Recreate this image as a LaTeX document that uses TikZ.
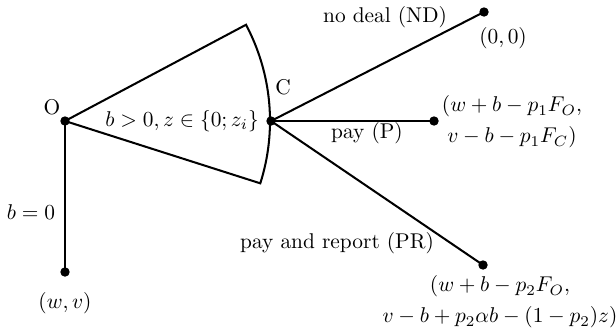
\documentclass[tikz,border=0pt]{standalone}
\usetikzlibrary{calc}
\begin{document}
\begin{tikzpicture}[x=0.468pt,y=-0.468pt,
  dot/.style={circle,fill=black,inner sep=0pt,minimum size=4.4pt},
  edge/.style={line width=0.95pt},
  txt/.style={inner sep=0pt}]
\useasboundingbox (0,0) rectangle (616,334);
\node[dot] (O) at (65,121) {};
\node[dot] (C) at (271,121) {};
\node[dot] (W) at (65,272) {};
\node[dot] (ND) at (484,12) {};
\node[dot] (P) at (434,121) {};
\node[dot] (PR) at (483,265) {};
% wedge
\draw[edge] (O.center) -- ++(-28:205) arc[start angle=-28, end angle=17.7, radius=205] -- cycle;
\draw[edge] (O.center) -- (W.center);
\draw[edge] (C.center) -- (ND.center);
\draw[edge] (C.center) -- (P.center);
\draw[edge] (C.center) -- (PR.center);
% labels
\node[txt] (lO) at (52,107) {O};
\node[txt] (lC) at (283,87) {C};
\node[txt] (lbz) at (182,121) {$b>0,z\in\{0;z_i\}$};
\node[txt] (lnd) at (385,17) {no deal (ND)};
\node[txt] (l00) at (503,38) {$(0,0)$};
\node[txt,align=center] (lPpay) at (512,122) {$(w+b-p_1F_O,$\\[2.5pt]$v-b-p_1F_C)$};
\node[txt] (lP) at (367,133) {pay (P)};
\node[txt] (lPR) at (337,243) {pay and report (PR)};
\node[txt,align=center] (lPRpay) at (500,302) {$(w+b-p_2F_O,$\\[2.5pt]$v-b+p_2\alpha b-(1-p_2)z)$};
\node[txt] (lb0) at (31,212) {$b=0$};
\node[txt] (lwv) at (65,303) {$(w,v)$};
\end{tikzpicture}
\end{document}
